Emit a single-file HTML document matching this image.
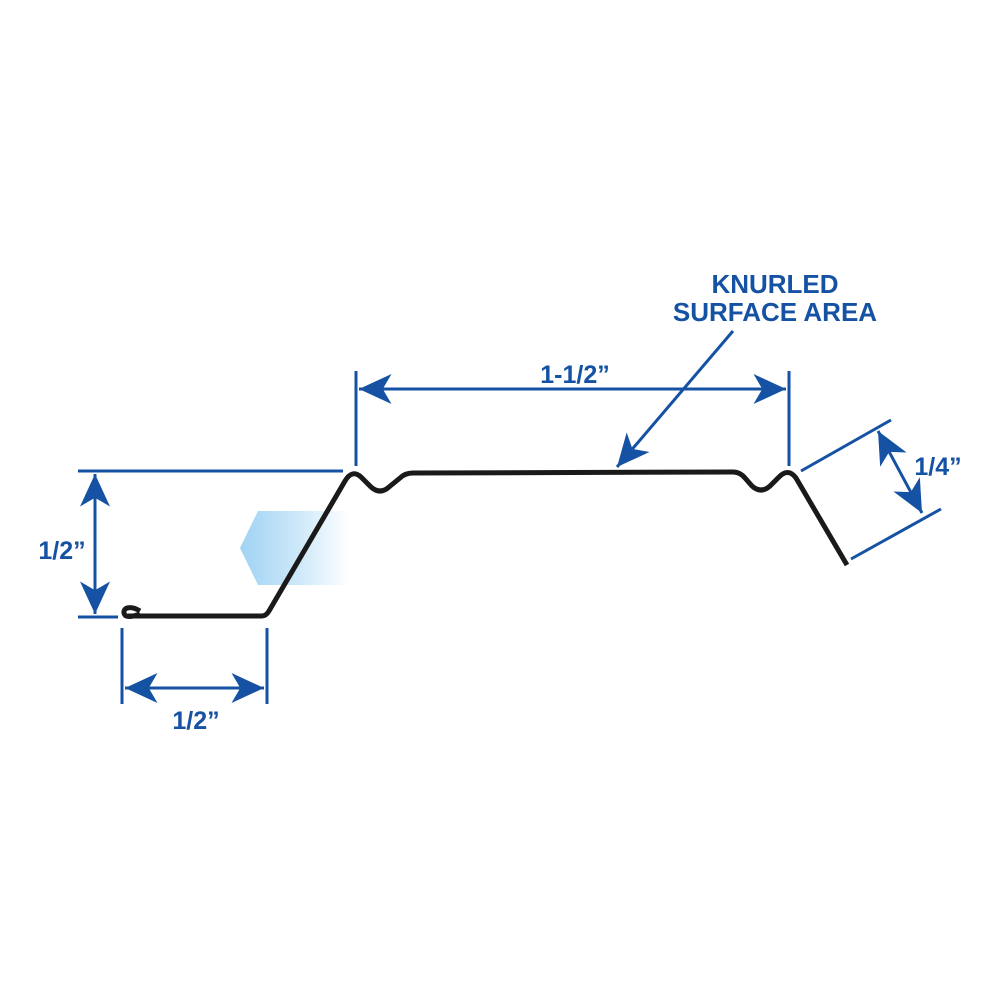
<!DOCTYPE html>
<html><head><meta charset="utf-8"><style>
html,body{margin:0;padding:0;background:#fff;}
svg{display:block;}
text{font-family:"Liberation Sans",Arial,sans-serif;font-weight:bold;fill:#1552a3;}
</style></head><body>
<svg width="1000" height="1000" viewBox="0 0 1000 1000" xmlns="http://www.w3.org/2000/svg">
<defs>
<marker id="a" markerUnits="userSpaceOnUse" markerWidth="40" markerHeight="40" viewBox="-30 -15 32 30" refX="0" refY="0" orient="auto-start-reverse">
<path d="M0,0 L-26,-12 L-19,0 L-26,12 Z" fill="#1552a3"/>
</marker>
<linearGradient id="g" x1="0" x2="1" y1="0" y2="0">
<stop offset="0" stop-color="#9fd3f3"/>
<stop offset="0.55" stop-color="#cfe9f9"/>
<stop offset="1" stop-color="#ffffff"/>
</linearGradient>
</defs>
<polygon points="258,511 350,511 350,585 258,585 240,548" fill="url(#g)"/>
<g stroke="#1552a3" stroke-width="3" fill="none">
<line x1="78" y1="471" x2="343" y2="471"/>
<line x1="78" y1="617" x2="118" y2="617"/>
<line x1="95" y1="474" x2="95" y2="614" marker-start="url(#a)" marker-end="url(#a)"/>
<line x1="122" y1="628" x2="122" y2="704"/>
<line x1="267" y1="628" x2="267" y2="704"/>
<line x1="125" y1="688" x2="264" y2="688" marker-start="url(#a)" marker-end="url(#a)"/>
<line x1="356" y1="371" x2="356" y2="466"/>
<line x1="789" y1="371" x2="789" y2="466"/>
<line x1="359" y1="389" x2="786" y2="389" marker-start="url(#a)" marker-end="url(#a)"/>
<line x1="733" y1="331" x2="617" y2="467" marker-end="url(#a)"/>
<line x1="801" y1="471" x2="891" y2="420"/>
<line x1="851" y1="559" x2="941" y2="509"/>
<line x1="878" y1="431" x2="922" y2="513" marker-start="url(#a)" marker-end="url(#a)"/>
</g>
<path d="M140,611 C130,605 123,608 124,613 C125,618 132,617 140,614 M128,616 L262,616 Q266,616 269,611 L345,481 Q352,469 361,477 L371,487 Q380,495 389,487 L400,478 Q405,473 413,473 L733,472 Q740,472 745,478 L752,486 Q761,494 770,486 L778,478 Q788,467 796,478 L847,565" fill="none" stroke="#1a1a1a" stroke-width="5" stroke-linejoin="round"/>
<text x="62" y="559" font-size="25" text-anchor="middle">1/2”</text>
<text x="196" y="729" font-size="25" text-anchor="middle">1/2”</text>
<text x="575" y="383" font-size="25" text-anchor="middle">1-1/2”</text>
<text x="938" y="475" font-size="25" text-anchor="middle">1/4”</text>
<text x="775" y="293" font-size="26" text-anchor="middle">KNURLED</text>
<text x="775" y="321" font-size="26" text-anchor="middle">SURFACE AREA</text>
</svg>
</body></html>
